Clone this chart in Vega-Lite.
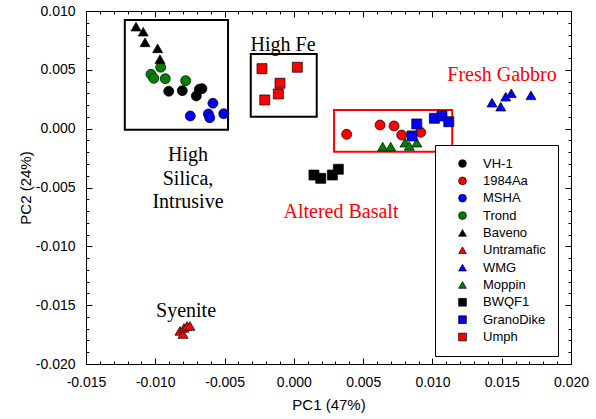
{
  "$schema": "https://vega.github.io/schema/vega-lite/v6.json",
  "width": 485,
  "height": 353,
  "autosize": "none",
  "padding": {"left": 86, "top": 11, "right": 25, "bottom": 55},
  "background": "white",
  "config": {
    "view": {"stroke": "black", "strokeWidth": 1},
    "font": "Liberation Sans",
    "axis": {
      "grid": false,
      "domainColor": "black",
      "tickColor": "black",
      "labelColor": "black",
      "titleColor": "black",
      "labelFont": "Liberation Sans",
      "titleFont": "Liberation Sans",
      "labelFontSize": 14,
      "titleFontSize": 15,
      "titleFontWeight": "normal",
      "labelFlush": false,
      "labelOverlap": false,
      "labelBound": false
    }
  },
  "datasets": {
    "points": [
      {"series": "VH-1", "pc1": -0.00903, "pc2": 0.00318},
      {"series": "VH-1", "pc1": -0.00805, "pc2": 0.00323},
      {"series": "VH-1", "pc1": -0.00682, "pc2": 0.00335},
      {"series": "VH-1", "pc1": -0.00663, "pc2": 0.0034},
      {"series": "VH-1", "pc1": -0.00704, "pc2": 0.00278},
      {"series": "1984Aa", "pc1": 0.00381, "pc2": -0.00048},
      {"series": "1984Aa", "pc1": 0.00622, "pc2": 0.00031},
      {"series": "1984Aa", "pc1": 0.00723, "pc2": 0.00023},
      {"series": "1984Aa", "pc1": 0.00778, "pc2": -0.00054},
      {"series": "1984Aa", "pc1": 0.00915, "pc2": -0.00031},
      {"series": "MSHA", "pc1": -0.00584, "pc2": 0.00216},
      {"series": "MSHA", "pc1": -0.00747, "pc2": 0.00108},
      {"series": "MSHA", "pc1": -0.00617, "pc2": 0.00125},
      {"series": "MSHA", "pc1": -0.00607, "pc2": 0.00093},
      {"series": "MSHA", "pc1": -0.00506, "pc2": 0.00127},
      {"series": "Trond", "pc1": -0.00961, "pc2": 0.00522},
      {"series": "Trond", "pc1": -0.01031, "pc2": 0.00462},
      {"series": "Trond", "pc1": -0.01011, "pc2": 0.00428},
      {"series": "Trond", "pc1": -0.00928, "pc2": 0.00425},
      {"series": "Trond", "pc1": -0.00781, "pc2": 0.00408},
      {"series": "Baveno", "pc1": -0.01139, "pc2": 0.00867},
      {"series": "Baveno", "pc1": -0.01087, "pc2": 0.00824},
      {"series": "Baveno", "pc1": -0.01074, "pc2": 0.00734},
      {"series": "Baveno", "pc1": -0.00983, "pc2": 0.00683},
      {"series": "Baveno", "pc1": -0.00966, "pc2": 0.0059},
      {"series": "Untramafic", "pc1": -0.00822, "pc2": -0.01719},
      {"series": "Untramafic", "pc1": -0.008, "pc2": -0.01745},
      {"series": "Untramafic", "pc1": -0.00793, "pc2": -0.01694},
      {"series": "Untramafic", "pc1": -0.00771, "pc2": -0.01677},
      {"series": "Untramafic", "pc1": -0.0075, "pc2": -0.01677},
      {"series": "WMG", "pc1": 0.0143, "pc2": 0.00221},
      {"series": "WMG", "pc1": 0.01493, "pc2": 0.00187},
      {"series": "WMG", "pc1": 0.01529, "pc2": 0.00272},
      {"series": "WMG", "pc1": 0.01569, "pc2": 0.00301},
      {"series": "WMG", "pc1": 0.01711, "pc2": 0.00284},
      {"series": "Moppin", "pc1": 0.00641, "pc2": -0.00153},
      {"series": "Moppin", "pc1": 0.00699, "pc2": -0.00153},
      {"series": "Moppin", "pc1": 0.00802, "pc2": -0.00119},
      {"series": "Moppin", "pc1": 0.00833, "pc2": -0.00147},
      {"series": "Moppin", "pc1": 0.00887, "pc2": -0.00119},
      {"series": "BWQF1", "pc1": 0.00145, "pc2": -0.00394},
      {"series": "BWQF1", "pc1": 0.00194, "pc2": -0.00422},
      {"series": "BWQF1", "pc1": 0.00278, "pc2": -0.00394},
      {"series": "BWQF1", "pc1": 0.00321, "pc2": -0.00345},
      {"series": "GranoDike", "pc1": 0.00887, "pc2": 0.0004},
      {"series": "GranoDike", "pc1": 0.00853, "pc2": -0.00062},
      {"series": "GranoDike", "pc1": 0.01014, "pc2": 0.00088},
      {"series": "GranoDike", "pc1": 0.01069, "pc2": 0.00108},
      {"series": "GranoDike", "pc1": 0.01118, "pc2": 0.00059},
      {"series": "Umph", "pc1": -0.0023, "pc2": 0.0051},
      {"series": "Umph", "pc1": 0.00025, "pc2": 0.00522},
      {"series": "Umph", "pc1": -0.001, "pc2": 0.00386},
      {"series": "Umph", "pc1": -0.00112, "pc2": 0.00295},
      {"series": "Umph", "pc1": -0.0021, "pc2": 0.00244}
    ],
    "blackBoxes": [
      {"x1": -0.0122, "x2": -0.00475, "y1": -0.0001, "y2": 0.00924},
      {"x1": -0.00311, "x2": 0.00165, "y1": 0.00102, "y2": 0.00635}
    ],
    "redBoxes": [
      {"x1": 0.0029, "x2": 0.01143, "y1": -0.00196, "y2": 0.00159}
    ],
    "blackLabels": [
      {"label": "High Fe", "pc1": -0.00078, "pc2": 0.00711},
      {"label": "High\nSilica,\nIntrusive", "pc1": -0.00764, "pc2": -0.00224},
      {"label": "Syenite", "pc1": -0.00778, "pc2": -0.01549}
    ],
    "redLabels": [
      {"label": "Fresh Gabbro", "pc1": 0.01502, "pc2": 0.00456},
      {"label": "Altered Basalt", "pc1": 0.0034, "pc2": -0.00708}
    ]
  },
  "resolve": {"axis": {"x": "independent", "y": "independent"}},
  "layer": [
    {
      "data": {"name": "blackBoxes"},
      "mark": {"type": "rect", "fill": null, "fillOpacity": 0, "stroke": "black", "strokeWidth": 2},
      "encoding": {
        "x": {
          "field": "x1", "type": "quantitative",
          "scale": {"domain": [-0.015, 0.02], "nice": false, "zero": false},
          "axis": {
            "orient": "top", "title": null, "labels": false, "domain": false,
            "values": [-0.015,-0.014,-0.013,-0.012,-0.011,-0.01,-0.009,-0.008,-0.007,-0.006,-0.005,-0.004,-0.003,-0.002,-0.001,0,0.001,0.002,0.003,0.004,0.005,0.006,0.007,0.008,0.009,0.01,0.011,0.012,0.013,0.014,0.015,0.016,0.017,0.018,0.019,0.02],
            "tickSize": {"condition": {"test": "abs(datum.value*200 - round(datum.value*200)) < 0.01", "value": -6}, "value": -3}
          }
        },
        "x2": {"field": "x2"},
        "y": {
          "field": "y1", "type": "quantitative",
          "scale": {"domain": [-0.02, 0.01], "nice": false, "zero": false},
          "axis": {
            "orient": "right", "title": null, "labels": false, "domain": false,
            "values": [-0.02,-0.019,-0.018,-0.017,-0.016,-0.015,-0.014,-0.013,-0.012,-0.011,-0.01,-0.009,-0.008,-0.007,-0.006,-0.005,-0.004,-0.003,-0.002,-0.001,0,0.001,0.002,0.003,0.004,0.005,0.006,0.007,0.008,0.009,0.01],
            "tickSize": {"condition": {"test": "abs(datum.value*200 - round(datum.value*200)) < 0.01", "value": -6}, "value": -3}
          }
        },
        "y2": {"field": "y2"}
      }
    },
    {
      "data": {"name": "redBoxes"},
      "mark": {"type": "rect", "fill": null, "fillOpacity": 0, "stroke": "#ff0000", "strokeWidth": 2},
      "encoding": {
        "x": {"field": "x1", "type": "quantitative", "axis": null},
        "x2": {"field": "x2"},
        "y": {"field": "y1", "type": "quantitative", "axis": null},
        "y2": {"field": "y2"}
      }
    },
    {
      "data": {"name": "points"},
      "mark": {"type": "point", "filled": true, "opacity": 1, "stroke": "black", "strokeWidth": 0.7, "size": 100},
      "encoding": {
        "x": {
          "field": "pc1", "type": "quantitative",
          "axis": {
            "orient": "bottom", "title": "PC1 (47%)", "domain": false,
            "values": [-0.015,-0.014,-0.013,-0.012,-0.011,-0.01,-0.009,-0.008,-0.007,-0.006,-0.005,-0.004,-0.003,-0.002,-0.001,0,0.001,0.002,0.003,0.004,0.005,0.006,0.007,0.008,0.009,0.01,0.011,0.012,0.013,0.014,0.015,0.016,0.017,0.018,0.019,0.02],
            "tickSize": {"condition": {"test": "abs(datum.value*200 - round(datum.value*200)) < 0.01", "value": -6}, "value": -3},
            "labelExpr": "abs(datum.value*200 - round(datum.value*200)) < 0.01 ? (datum.value < -0.00001 ? '-' : '') + format(abs(datum.value), '.3f') : ''",
            "labelPadding": 17,
            "titlePadding": 5
          }
        },
        "y": {
          "field": "pc2", "type": "quantitative",
          "axis": {
            "orient": "left", "title": "PC2 (24%)", "domain": false,
            "values": [-0.02,-0.019,-0.018,-0.017,-0.016,-0.015,-0.014,-0.013,-0.012,-0.011,-0.01,-0.009,-0.008,-0.007,-0.006,-0.005,-0.004,-0.003,-0.002,-0.001,0,0.001,0.002,0.003,0.004,0.005,0.006,0.007,0.008,0.009,0.01],
            "tickSize": {"condition": {"test": "abs(datum.value*200 - round(datum.value*200)) < 0.01", "value": -6}, "value": -3},
            "labelExpr": "abs(datum.value*200 - round(datum.value*200)) < 0.01 ? (datum.value < -0.00001 ? '-' : '') + format(abs(datum.value), '.3f') : ''",
            "labelPadding": 17,
            "titlePadding": 2
          }
        },
        "color": {
          "field": "series", "type": "nominal",
          "scale": {
            "domain": ["VH-1", "1984Aa", "MSHA", "Trond", "Baveno", "Untramafic", "WMG", "Moppin", "BWQF1", "GranoDike", "Umph"],
            "range": ["#000000", "#ff0000", "#0000ff", "#008000", "#000000", "#ff0000", "#0000ff", "#008000", "#000000", "#0000ff", "#ff0000"]
          },
          "legend": {
            "orient": "none", "legendX": 349, "legendY": 134, "title": null,
            "strokeColor": "black", "fillColor": "white", "padding": 12,
            "labelFont": "Liberation Sans", "labelFontSize": 13, "labelColor": "black",
            "symbolSize": 60, "symbolStrokeColor": "black", "symbolStrokeWidth": 0.7,
            "symbolOffset": 9, "labelOffset": 14, "rowPadding": 3.35
          }
        },
        "shape": {
          "field": "series", "type": "nominal",
          "scale": {
            "domain": ["VH-1", "1984Aa", "MSHA", "Trond", "Baveno", "Untramafic", "WMG", "Moppin", "BWQF1", "GranoDike", "Umph"],
            "range": ["circle", "circle", "circle", "circle", "triangle-up", "triangle-up", "triangle-up", "triangle-up", "square", "square", "square"]
          },
          "legend": {
            "orient": "none", "legendX": 349, "legendY": 134, "title": null,
            "strokeColor": "black", "fillColor": "white", "padding": 12,
            "labelFont": "Liberation Sans", "labelFontSize": 13, "labelColor": "black",
            "symbolSize": 60, "symbolStrokeColor": "black", "symbolStrokeWidth": 0.7,
            "symbolOffset": 9, "labelOffset": 14, "rowPadding": 3.35
          }
        }
      }
    },
    {
      "data": {"name": "blackLabels"},
      "mark": {"type": "text", "font": "Liberation Serif", "fontSize": 20, "color": "black", "align": "center", "baseline": "middle", "lineBreak": "\n", "lineHeight": 23.5},
      "encoding": {
        "x": {"field": "pc1", "type": "quantitative", "axis": null},
        "y": {"field": "pc2", "type": "quantitative", "axis": null},
        "text": {"field": "label"}
      }
    },
    {
      "data": {"name": "redLabels"},
      "mark": {"type": "text", "font": "Liberation Serif", "fontSize": 20, "color": "#ff0000", "align": "center", "baseline": "middle"},
      "encoding": {
        "x": {"field": "pc1", "type": "quantitative", "axis": null},
        "y": {"field": "pc2", "type": "quantitative", "axis": null},
        "text": {"field": "label"}
      }
    }
  ]
}
